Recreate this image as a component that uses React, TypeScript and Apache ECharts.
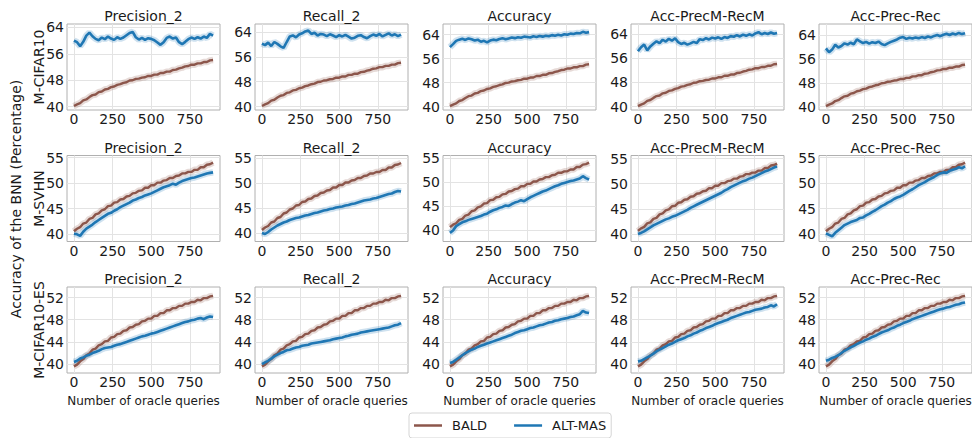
import React, { useEffect, useRef } from 'react';
import * as echarts from 'echarts';

// ---------------- data ----------------
const QUERIES = [0, 20, 40, 60, 80, 100, 120, 140, 160, 180, 200, 220, 240, 260, 280, 300, 320, 340, 360, 380, 400, 420, 440, 460, 480, 500, 520, 540, 560, 580, 600, 620, 640, 660, 680, 700, 720, 740, 760, 780, 800, 820, 840, 860, 880, 900];

const DATASETS = ['M-CIFAR10', 'M-SVHN', 'M-CIFAR10-ES'];
const METRICS = ['Precision_2', 'Recall_2', 'Accuracy', 'Acc-PrecM-RecM', 'Acc-Prec-Rec'];
const SERIES_NAMES = ['BALD', 'ALT-MAS'];

const X_TICKS = [0, 250, 500, 750];
const Y_TICKS_CIFAR10 = [40, 48, 56, 64];
const Y_TICKS_SVHN = [40, 45, 50, 55];
const Y_TICKS_ES = [40, 44, 48, 52];

// BALD baseline (same in every panel of a row)
const BALD_CIFAR10 = [40.2, 40.7, 41.1, 41.9, 42.2, 42.9, 43.5, 43.7, 44.4, 44.6, 45.2, 45.4, 45.9, 46.1, 46.6, 46.8, 47.2, 47.4, 47.9, 48.0, 48.4, 48.5, 48.8, 48.9, 49.3, 49.3, 49.7, 49.7, 50.2, 50.2, 50.6, 50.6, 51.1, 51.2, 51.6, 51.8, 52.2, 52.3, 52.7, 52.7, 53.1, 53.1, 53.5, 53.5, 54.0, 54.1];
const BALD_SVHN = [40.6, 41.1, 41.4, 42.1, 42.3, 43.0, 43.2, 43.9, 44.1, 44.7, 44.9, 45.5, 45.6, 46.2, 46.3, 46.8, 46.9, 47.4, 47.5, 48.0, 48.1, 48.5, 48.6, 49.1, 49.1, 49.6, 49.6, 50.1, 50.1, 50.5, 50.6, 51.0, 51.0, 51.4, 51.5, 51.9, 51.9, 52.2, 52.2, 52.6, 52.6, 53.1, 53.1, 53.6, 53.7, 54.0];
const BALD_ES = [39.6, 39.9, 40.5, 40.9, 41.6, 41.9, 42.6, 42.8, 43.4, 43.6, 44.1, 44.2, 44.8, 44.9, 45.4, 45.5, 46.0, 46.1, 46.6, 46.7, 47.1, 47.2, 47.7, 47.8, 48.2, 48.2, 48.7, 48.7, 49.2, 49.2, 49.7, 49.7, 50.1, 50.1, 50.5, 50.5, 50.9, 50.9, 51.2, 51.2, 51.6, 51.5, 51.9, 51.9, 52.2, 52.3];

// ALT-MAS, M-CIFAR10
const ALT_CIFAR10_PREC2 = [60.0, 59.5, 58.3, 59.6, 61.5, 62.4, 61.3, 60.5, 60.1, 60.9, 60.4, 61.2, 60.6, 60.2, 61.0, 60.5, 60.9, 61.6, 62.3, 62.6, 61.0, 60.3, 60.8, 60.2, 60.7, 60.5, 60.1, 59.4, 58.7, 59.5, 60.8, 61.2, 60.6, 60.9, 59.5, 58.9, 59.6, 60.4, 60.9, 60.5, 61.0, 60.6, 61.2, 60.8, 62.0, 61.5];
const ALT_CIFAR10_REC2 = [60.3, 59.8, 60.6, 59.5, 60.8, 60.2, 59.4, 58.9, 60.8, 62.6, 62.9, 62.3, 63.2, 63.6, 64.2, 64.5, 63.4, 63.8, 62.9, 63.4, 63.2, 62.7, 63.3, 62.9, 62.4, 63.0, 62.6, 63.1, 62.5, 61.9, 62.2, 62.8, 63.0, 62.4, 62.0, 62.7, 63.2, 62.8, 63.4, 62.6, 63.1, 63.6, 62.9, 63.3, 62.7, 63.2];
const ALT_CIFAR10_ACC = [59.8, 60.8, 61.9, 62.3, 62.6, 62.2, 62.7, 62.4, 62.0, 62.3, 61.6, 61.9, 61.4, 62.0, 62.3, 62.1, 62.5, 62.8, 62.4, 62.7, 63.0, 62.8, 63.1, 62.9, 63.3, 63.2, 63.0, 63.4, 63.2, 63.5, 63.3, 63.6, 63.4, 63.8, 63.6, 63.9, 63.7, 64.1, 63.9, 64.3, 64.2, 64.5, 64.4, 64.9, 64.6, 64.8];
const ALT_CIFAR10_ACCPMRM = [58.3, 59.6, 60.5, 58.6, 59.9, 60.8, 61.6, 61.0, 62.1, 61.5, 62.4, 61.8, 62.6, 61.3, 60.7, 61.1, 60.5, 60.9, 61.4, 61.0, 62.3, 62.0, 62.6, 62.2, 62.8, 62.5, 62.9, 62.4, 63.0, 62.7, 63.3, 63.1, 63.6, 63.2, 63.8, 63.4, 63.9, 63.5, 64.2, 64.6, 63.9, 64.3, 64.0, 64.5, 64.1, 64.3];
const ALT_CIFAR10_ACCPR = [59.6, 58.3, 59.2, 60.8, 59.9, 60.4, 61.3, 60.9, 61.5, 61.0, 62.6, 62.0, 61.4, 61.8, 61.2, 61.7, 61.4, 61.9, 61.1, 60.7, 61.3, 61.8, 62.2, 62.6, 63.2, 63.4, 62.8, 63.2, 62.9, 63.3, 63.0, 63.4, 63.1, 63.6, 63.3, 63.8, 64.1, 63.7, 64.2, 64.5, 64.1, 64.6, 64.3, 64.8, 64.4, 64.7];

// ALT-MAS, M-SVHN
const ALT_SVHN_PREC2 = [40.1, 40.0, 39.7, 40.5, 41.1, 41.5, 41.9, 42.4, 42.8, 43.2, 43.6, 44.0, 44.2, 44.6, 44.9, 45.3, 45.6, 45.9, 46.2, 46.6, 46.8, 47.1, 47.3, 47.6, 47.8, 48.0, 48.3, 48.6, 48.9, 49.2, 49.4, 49.6, 49.9, 49.7, 50.1, 50.4, 50.6, 50.8, 51.0, 51.1, 51.3, 51.5, 51.7, 51.9, 52.0, 52.1];
const ALT_SVHN_REC2 = [40.0, 39.8, 40.2, 40.7, 41.1, 41.5, 41.8, 42.1, 42.3, 42.6, 42.8, 43.0, 43.1, 43.3, 43.5, 43.6, 43.8, 44.0, 44.1, 44.3, 44.5, 44.6, 44.8, 44.9, 45.1, 45.2, 45.3, 45.5, 45.6, 45.8, 45.9, 46.1, 46.3, 46.5, 46.6, 46.7, 46.9, 47.0, 47.2, 47.4, 47.6, 47.8, 47.9, 48.2, 48.4, 48.3];
const ALT_SVHN_ACC = [39.4, 39.9, 40.8, 41.2, 41.6, 41.8, 42.1, 42.3, 42.5, 42.7, 42.9, 43.2, 43.4, 43.8, 44.1, 44.3, 44.6, 44.8, 45.1, 45.0, 45.4, 45.7, 45.9, 46.2, 46.0, 46.4, 46.8, 47.1, 47.4, 47.7, 48.0, 48.2, 48.5, 48.8, 49.1, 49.3, 49.6, 49.8, 50.0, 50.2, 50.3, 50.5, 50.7, 51.2, 50.8, 50.5];
const ALT_SVHN_ACCPMRM = [40.0, 40.2, 40.5, 40.9, 41.3, 41.7, 42.0, 42.3, 42.6, 42.9, 43.1, 43.4, 43.6, 43.9, 44.2, 44.5, 44.8, 45.2, 45.5, 45.8, 46.1, 46.4, 46.7, 47.0, 47.3, 47.6, 47.9, 48.2, 48.6, 48.9, 49.3, 49.6, 49.9, 50.2, 50.5, 50.7, 51.0, 51.2, 51.5, 51.8, 52.1, 52.4, 52.6, 52.9, 53.2, 53.4];
const ALT_SVHN_ACCPR = [40.2, 39.9, 39.6, 40.3, 40.8, 41.3, 41.8, 42.1, 42.4, 42.6, 42.8, 43.2, 43.3, 43.7, 44.0, 44.4, 44.7, 45.1, 45.5, 45.8, 46.2, 46.5, 46.9, 47.2, 47.4, 47.7, 48.1, 48.5, 48.8, 49.2, 49.6, 49.9, 50.2, 50.6, 50.9, 51.2, 51.6, 51.9, 52.1, 52.0, 52.4, 52.6, 52.8, 53.1, 52.9, 53.3];

// ALT-MAS, M-CIFAR10-ES
const ALT_ES_PREC2 = [40.4, 40.6, 41.0, 41.2, 41.5, 41.7, 42.0, 42.2, 42.4, 42.7, 42.9, 43.0, 43.1, 43.3, 43.5, 43.6, 43.8, 44.0, 44.2, 44.4, 44.6, 44.8, 45.0, 45.1, 45.3, 45.5, 45.6, 45.8, 46.0, 46.2, 46.4, 46.6, 46.8, 47.0, 47.2, 47.4, 47.6, 47.7, 47.9, 48.0, 48.2, 48.3, 48.1, 48.4, 48.6, 48.5];
const ALT_ES_REC2 = [40.0, 40.3, 40.6, 41.0, 41.4, 41.7, 42.0, 42.2, 42.5, 42.6, 42.8, 43.0, 43.1, 43.3, 43.4, 43.5, 43.7, 43.8, 43.9, 44.0, 44.1, 44.2, 44.3, 44.5, 44.6, 44.7, 44.8, 45.0, 45.1, 45.3, 45.4, 45.5, 45.7, 45.8, 45.9, 46.0, 46.1, 46.2, 46.3, 46.4, 46.5, 46.6, 46.8, 47.0, 47.1, 47.4];
const ALT_ES_ACC = [40.2, 40.4, 40.8, 41.2, 41.6, 42.0, 42.3, 42.6, 42.8, 43.1, 43.3, 43.5, 43.7, 43.9, 44.1, 44.3, 44.5, 44.7, 44.9, 45.1, 45.3, 45.6, 45.8, 46.0, 46.1, 46.3, 46.5, 46.6, 46.8, 47.0, 47.1, 47.3, 47.5, 47.6, 47.8, 47.9, 48.1, 48.2, 48.3, 48.5, 48.6, 48.8, 49.0, 49.6, 49.3, 49.2];
const ALT_ES_ACCPMRM = [40.5, 40.6, 40.9, 41.2, 41.5, 41.9, 42.3, 42.6, 42.9, 43.2, 43.5, 43.7, 44.0, 44.3, 44.5, 44.7, 45.0, 45.2, 45.5, 45.7, 46.0, 46.2, 46.5, 46.7, 46.9, 47.2, 47.4, 47.6, 47.8, 48.0, 48.3, 48.5, 48.7, 48.9, 49.1, 49.3, 49.4, 49.6, 49.8, 49.9, 50.0, 50.2, 50.3, 50.6, 50.4, 50.8];
const ALT_ES_ACCPR = [40.6, 40.8, 41.1, 41.3, 41.6, 42.0, 42.4, 42.7, 43.0, 43.3, 43.6, 43.9, 44.1, 44.4, 44.6, 44.9, 45.1, 45.4, 45.7, 45.9, 46.1, 46.4, 46.6, 46.9, 47.1, 47.4, 47.6, 47.8, 48.1, 48.3, 48.5, 48.7, 48.9, 49.1, 49.3, 49.5, 49.7, 49.9, 50.0, 50.2, 50.3, 50.5, 50.7, 50.8, 51.0, 51.1];

const BALD_BY_ROW = [BALD_CIFAR10, BALD_SVHN, BALD_ES];
const ALT_BY_PANEL = [
  [ALT_CIFAR10_PREC2, ALT_CIFAR10_REC2, ALT_CIFAR10_ACC, ALT_CIFAR10_ACCPMRM, ALT_CIFAR10_ACCPR],
  [ALT_SVHN_PREC2, ALT_SVHN_REC2, ALT_SVHN_ACC, ALT_SVHN_ACCPMRM, ALT_SVHN_ACCPR],
  [ALT_ES_PREC2, ALT_ES_REC2, ALT_ES_ACC, ALT_ES_ACCPMRM, ALT_ES_ACCPR],
];
const Y_TICKS_BY_ROW = [Y_TICKS_CIFAR10, Y_TICKS_SVHN, Y_TICKS_ES];

// ---------------- layout / style ----------------
const Y_RANGES = [
  [[39.0, 65.0], [38.9, 66.6], [38.9, 67.5], [38.9, 67.3], [38.9, 67.8]],
  [[38.6, 55.4], [38.3, 55.5], [37.6, 55.5], [38.5, 55.6], [38.6, 55.4]],
  [[38.4, 53.9], [38.4, 53.9], [38.4, 53.9], [38.4, 53.9], [38.4, 53.9]],
];
const X_RANGE = [-45, 945];
const COL_LEFT = [67, 255, 443, 631, 819];
const ROW_TOP = [24, 155.5, 287];
const PW = 153;
const PH = 86;

const FONT = '"DejaVu Sans"';
const TEXT = '#1a1a1a';
const BROWN = '#8c564b';
const BLUE = '#1f77b4';
const FRAME = '#b0b0b0';
const GRIDLINE = '#e3e3e3';

function pairs(vals: number[]) {
  const out: number[][] = [];
  for (let i = 0; i < QUERIES.length && i < vals.length; i++) out.push([QUERIES[i], vals[i]]);
  return out;
}

function label(text: string, x: number, y: number, size: number, rotated = false) {
  return {
    type: 'text',
    x,
    y,
    rotation: rotated ? Math.PI / 2 : 0,
    style: {
      text,
      font: `${size}px ${FONT}`,
      fontSize: size,
      fontFamily: 'DejaVu Sans',
      fill: TEXT,
      textAlign: 'center',
      textVerticalAlign: 'middle',
    },
  };
}

export default function App() {
  const ref = useRef<HTMLDivElement>(null);

  useEffect(() => {
    document.body.style.margin = '0';
    const chart = echarts.init(ref.current!, null, { renderer: 'svg' });

    const grid: any[] = [];
    const xAxis: any[] = [];
    const yAxis: any[] = [];
    const series: any[] = [];
    const graphic: any[] = [];

    for (let r = 0; r < 3; r++) {
      for (let c = 0; c < 5; c++) {
        const idx = r * 5 + c;
        grid.push({
          left: COL_LEFT[c],
          top: ROW_TOP[r],
          width: PW,
          height: PH,
          show: true,
          borderColor: FRAME,
          borderWidth: 1,
          backgroundColor: 'transparent',
        });
        xAxis.push({
          type: 'value',
          gridIndex: idx,
          min: X_RANGE[0],
          max: X_RANGE[1],
          axisLine: { show: false },
          axisTick: { show: false, customValues: X_TICKS },
          axisLabel: {
            customValues: X_TICKS,
            fontSize: 14,
            fontFamily: 'DejaVu Sans',
            color: TEXT,
            margin: 2,
          },
          splitLine: { show: true, lineStyle: { color: GRIDLINE, width: 1 } },
        });
        yAxis.push({
          type: 'value',
          gridIndex: idx,
          min: Y_RANGES[r][c][0],
          max: Y_RANGES[r][c][1],
          axisLine: { show: false },
          axisTick: { show: false, customValues: Y_TICKS_BY_ROW[r] },
          axisLabel: {
            customValues: Y_TICKS_BY_ROW[r],
            fontSize: 14,
            fontFamily: 'DejaVu Sans',
            color: TEXT,
            margin: 3,
          },
          splitLine: { show: true, lineStyle: { color: GRIDLINE, width: 1 } },
        });

        const lines = [
          { name: SERIES_NAMES[0], color: BROWN, vals: BALD_BY_ROW[r], w: 2.4 },
          { name: SERIES_NAMES[1], color: BLUE, vals: ALT_BY_PANEL[r][c], w: 2.6 },
        ];
        for (const l of lines) {
          series.push({
            type: 'line',
            name: l.name + ' band',
            xAxisIndex: idx,
            yAxisIndex: idx,
            data: pairs(l.vals),
            symbol: 'none',
            silent: true,
            lineStyle: { color: l.color, width: 6.5, opacity: 0.22 },
            itemStyle: { color: l.color },
            z: 2,
          });
          series.push({
            type: 'line',
            name: l.name,
            xAxisIndex: idx,
            yAxisIndex: idx,
            data: pairs(l.vals),
            symbol: 'none',
            lineStyle: { color: l.color, width: l.w },
            itemStyle: { color: l.color },
            z: 3,
          });
        }

        graphic.push(label(METRICS[c], COL_LEFT[c] + PW / 2, ROW_TOP[r] - 8, 14));
        if (r === 2) {
          graphic.push(label('Number of oracle queries', COL_LEFT[c] + PW / 2, 401, 12));
        }
      }
      graphic.push(label(DATASETS[r], 39, ROW_TOP[r] + PH / 2, 14, true));
    }
    graphic.push(label('Accuracy of the BNN (Percentage)', 16, 199, 14, true));

    chart.setOption({
      animation: false,
      backgroundColor: '#ffffff',
      grid,
      xAxis,
      yAxis,
      series,
      graphic,
      legend: {
        data: SERIES_NAMES.map((n) => ({ name: n, icon: 'rect' })),
        left: 409,
        top: 413,
        padding: [6, 5, 6, 5],
        itemWidth: 28,
        itemHeight: 2.5,
        itemGap: 27,
        borderColor: '#d5d5d5',
        borderWidth: 1,
        borderRadius: 3,
        backgroundColor: '#ffffff',
        textStyle: { fontSize: 13, fontFamily: 'DejaVu Sans', color: TEXT, padding: [0, 0, 0, 5] },
      },
    });

    return () => chart.dispose();
  }, []);

  return <div ref={ref} style={{ width: 972, height: 438 }} />;
}
